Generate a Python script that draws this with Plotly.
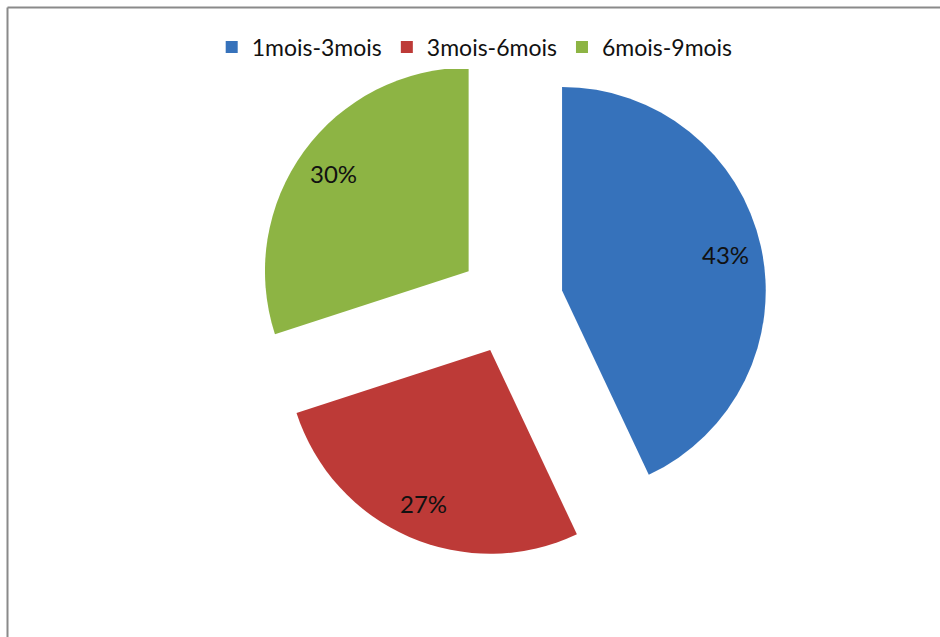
import math
import plotly.graph_objects as go

labels = ["1mois-3mois", "3mois-6mois", "6mois-9mois"]
values = [43, 27, 30]
colors = ["#3672BB", "#BD3A37", "#8DB444"]
pull = 0.257

W, H = 940, 637
dom_x = [0.2712, 0.8160]
dom_y = [0.1240, 0.9278]

fig = go.Figure(go.Pie(
    labels=labels,
    values=values,
    sort=False,
    direction="clockwise",
    rotation=0,
    pull=[pull] * len(values),
    marker=dict(colors=colors, line=dict(width=0)),
    textinfo="none",
    domain=dict(x=dom_x, y=dom_y),
    hoverinfo="label+percent",
))

# percentage labels placed along each slice's mid-angle (Excel "best fit" style)
box_w = W * (dom_x[1] - dom_x[0])
box_h = H * (dom_y[1] - dom_y[0])
r = min(box_w, box_h) / (2 + 2 * pull)
cx = W * (dom_x[0] + dom_x[1]) / 2
cy = H * (1 - (dom_y[0] + dom_y[1]) / 2)
total = sum(values)
annotations = []
cum = 0
for v in values:
    mid = 2 * math.pi * (cum + v / 2) / total
    cum += v
    dist = (pull + 0.82) * r
    px = cx + dist * math.sin(mid)
    py = cy - dist * math.cos(mid)
    annotations.append(dict(
        x=px / W, y=1 - py / H, xref="paper", yref="paper",
        text=f"{round(100 * v / total)}%", showarrow=False,
        xanchor="center", yanchor="middle",
        font=dict(family="Lato", size=24, color="#111111"),
    ))

fig.update_layout(
    width=W, height=H,
    margin=dict(l=0, r=0, t=0, b=0),
    paper_bgcolor="white",
    plot_bgcolor="white",
    font=dict(family="Lato", size=23, color="#111111"),
    legend=dict(
        orientation="h",
        x=0.505, xanchor="center",
        y=0.926, yanchor="middle",
        font=dict(family="Lato", size=23, color="#111111"),
        itemwidth=30,
        traceorder="normal",
    ),
    showlegend=True,
    annotations=annotations,
    shapes=[
        dict(type="line", xref="paper", yref="paper",
             x0=7.5 / W, x1=1.02, y0=1 - 7.5 / H, y1=1 - 7.5 / H,
             line=dict(color="#8a8a8a", width=2), layer="below"),
        dict(type="line", xref="paper", yref="paper",
             x0=7.5 / W, x1=7.5 / W, y0=-0.02, y1=1 - 7.5 / H,
             line=dict(color="#8a8a8a", width=2), layer="below"),
    ],
)

fig.write_html(
    "out.html",
    config={"displayModeBar": False},
    post_script="document.body.style.margin='0';document.body.style.overflow='hidden';",
)
